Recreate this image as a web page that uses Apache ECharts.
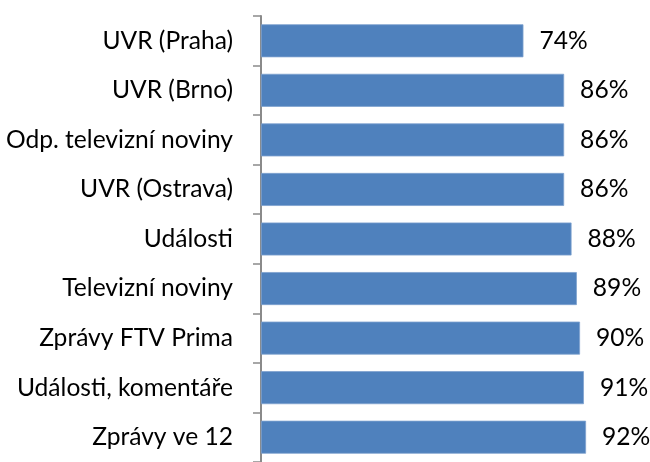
<!DOCTYPE html>
<html>
<head>
<meta charset="utf-8">
<script src="https://cdn.jsdelivr.net/npm/echarts@6/dist/echarts.min.js"></script>
<style>
html,body{margin:0;padding:0;background:#fff;}
#chart{width:650px;height:462px;}
</style>
</head>
<body>
<div id="chart"></div>
<script>
const categories = ["UVR (Praha)", "UVR (Brno)", "Odp. televizní noviny", "UVR (Ostrava)", "Události", "Televizní noviny", "Zprávy FTV Prima", "Události, komentáře", "Zprávy ve 12"];
const values = [74.2, 85.7, 85.7, 85.7, 87.8, 89.3, 90.2, 91.3, 91.9];
const valueLabels = ["74%", "86%", "86%", "86%", "88%", "89%", "90%", "91%", "92%"];

const FONT = "Lato";
const chart = echarts.init(document.getElementById('chart'), null, {renderer: 'canvas'});
chart.setOption({
  animation: false,
  grid: {left: 261, top: 16, width: 353.7, height: 453, containLabel: false},
  xAxis: {
    type: 'value', min: 0, max: 100,
    show: false
  },
  yAxis: {
    type: 'category', data: categories, inverse: true,
    axisLine: {show: true, lineStyle: {color: '#8a8a8a', width: 2}},
    axisTick: {show: true, inside: false, length: 8, lineStyle: {color: '#8a8a8a', width: 1.5}},
    axisLabel: {color: '#000', fontFamily: FONT, fontSize: 24.6, margin: 28},
    splitLine: {show: false}
  },
  series: [{
    type: 'bar', data: values, barWidth: 33,
    itemStyle: {color: '#4f81bd', borderColor: '#7fa2cf', borderWidth: 0.8},
    label: {
      show: true, position: 'right', distance: 16,
      color: '#000', fontFamily: FONT, fontSize: 24.6,
      formatter: p => valueLabels[p.dataIndex]
    }
  }]
});
</script>
</body>
</html>
